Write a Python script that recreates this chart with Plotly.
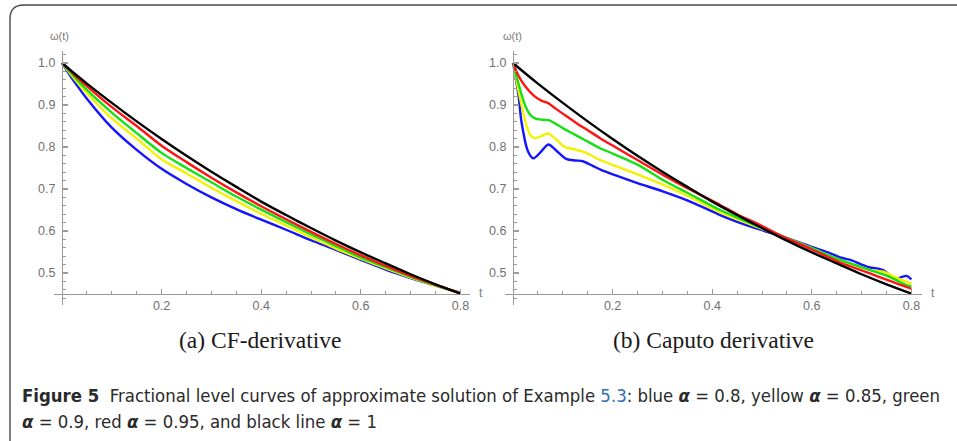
import plotly.graph_objects as go

W, H = 957, 441

# ---------------- data: (a) CF-derivative ----------------
t_cf = [0, 0.025, 0.05, 0.1, 0.15, 0.2, 0.25, 0.3, 0.35, 0.4, 0.45, 0.5,
        0.55, 0.6, 0.65, 0.7, 0.75, 0.8]
cf_black = [1.0, 0.975, 0.951, 0.905, 0.861, 0.819, 0.779, 0.741, 0.705, 0.670,
            0.638, 0.607, 0.577, 0.549, 0.523, 0.497, 0.473, 0.451]
cf_red = [1.0, 0.972, 0.945, 0.895, 0.850, 0.803, 0.764, 0.727, 0.692, 0.659,
          0.628, 0.598, 0.569, 0.542, 0.517, 0.493, 0.472, 0.452]
cf_green = [1.0, 0.967, 0.936, 0.882, 0.833, 0.786, 0.750, 0.716, 0.682, 0.651,
            0.621, 0.592, 0.564, 0.537, 0.514, 0.491, 0.471, 0.452]
cf_yellow = [1.0, 0.962, 0.928, 0.868, 0.820, 0.771, 0.737, 0.703, 0.671, 0.641,
             0.613, 0.585, 0.558, 0.534, 0.511, 0.489, 0.470, 0.452]
cf_blue = [1.0, 0.955, 0.915, 0.846, 0.793, 0.748, 0.712, 0.680, 0.652, 0.627,
           0.603, 0.578, 0.555, 0.531, 0.508, 0.488, 0.470, 0.453]

# ---------------- data: (b) Caputo derivative ----------------
t_cap_black = t_cf
cap_black = cf_black

t_cap_red = [0, 0.01, 0.024, 0.044, 0.058, 0.071, 0.085, 0.104, 0.13, 0.15, 0.175,
             0.205, 0.25, 0.302, 0.35, 0.416, 0.45, 0.5, 0.543, 0.6, 0.657, 0.717,
             0.75, 0.79, 0.8]
cap_red = [1.0, 0.972, 0.945, 0.920, 0.910, 0.904, 0.892, 0.876, 0.855, 0.840, 0.821,
           0.800, 0.769, 0.733, 0.702, 0.662, 0.640, 0.612, 0.586, 0.556, 0.525, 0.499,
           0.484, 0.467, 0.462]

t_cap_green = [0, 0.01, 0.024, 0.035, 0.044, 0.058, 0.071, 0.085, 0.1, 0.12, 0.145,
               0.175, 0.205, 0.25, 0.302, 0.35, 0.416, 0.45, 0.5, 0.543, 0.6, 0.637,
               0.657, 0.717, 0.75, 0.79, 0.8]
cap_green = [1.0, 0.955, 0.900, 0.876, 0.868, 0.865, 0.864, 0.856, 0.845, 0.832, 0.816,
             0.797, 0.782, 0.758, 0.721, 0.691, 0.650, 0.632, 0.607, 0.586, 0.559, 0.540,
             0.531, 0.507, 0.494, 0.471, 0.468]

t_cap_yellow = [0, 0.01, 0.025, 0.035, 0.044, 0.057, 0.07, 0.085, 0.104, 0.125, 0.145,
                0.175, 0.205, 0.25, 0.302, 0.35, 0.416, 0.45, 0.5, 0.543, 0.6, 0.657,
                0.717, 0.744, 0.767, 0.79, 0.8]
cap_yellow = [1.0, 0.940, 0.860, 0.828, 0.821, 0.826, 0.832, 0.820, 0.800, 0.794, 0.787,
              0.769, 0.755, 0.735, 0.710, 0.684, 0.644, 0.628, 0.605, 0.586, 0.559, 0.531,
              0.507, 0.503, 0.490, 0.479, 0.475]

t_cap_blue = [0, 0.006, 0.011, 0.017, 0.03, 0.041, 0.055, 0.071, 0.09, 0.108, 0.125,
              0.14, 0.16, 0.178, 0.205, 0.25, 0.302, 0.35, 0.416, 0.45, 0.5, 0.543,
              0.6, 0.637, 0.657, 0.68, 0.7, 0.717, 0.73, 0.745, 0.757, 0.767, 0.78,
              0.79, 0.8]
cap_blue = [1.0, 0.960, 0.924, 0.860, 0.790, 0.773, 0.787, 0.806, 0.788, 0.771, 0.768,
            0.766, 0.755, 0.745, 0.733, 0.714, 0.694, 0.673, 0.638, 0.622, 0.602, 0.586,
            0.562, 0.547, 0.537, 0.530, 0.520, 0.513, 0.511, 0.506, 0.494, 0.486, 0.490,
            0.493, 0.485]

x_ticks = [0.2, 0.4, 0.6, 0.8]
x_tick_labels = ["0.2", "0.4", "0.6", "0.8"]
x_minor = [0.05, 0.1, 0.15, 0.25, 0.3, 0.35, 0.45, 0.5, 0.55, 0.65, 0.7, 0.75]
y_ticks = [0.5, 0.6, 0.7, 0.8, 0.9, 1.0]
y_tick_labels = ["0.5", "0.6", "0.7", "0.8", "0.9", "1.0"]
y_minor = [0.44, 0.46, 0.48, 0.52, 0.54, 0.56, 0.58, 0.62, 0.64, 0.66, 0.68,
           0.72, 0.74, 0.76, 0.78, 0.82, 0.84, 0.86, 0.88, 0.92, 0.94, 0.96,
           0.98, 1.02]

COL = {"blue": "#1414ff", "yellow": "#f2f200", "green": "#14e014",
       "red": "#ff1414", "black": "#000000"}

def X(px):
    return px / W

def Y(py):
    return 1 - py / H

fig = go.Figure()

def add(t, v, color, ax):
    fig.add_trace(go.Scatter(x=t, y=v, mode="lines",
                             line=dict(color=COL[color], width=2.4, shape="spline", smoothing=0.8),
                             xaxis="x" + ax, yaxis="y" + ax, showlegend=False,
                             hoverinfo="skip"))

add(t_cf, cf_blue, "blue", "")
add(t_cf, cf_yellow, "yellow", "")
add(t_cf, cf_green, "green", "")
add(t_cf, cf_red, "red", "")
add(t_cf, cf_black, "black", "")

add(t_cap_blue, cap_blue, "blue", "2")
add(t_cap_yellow, cap_yellow, "yellow", "2")
add(t_cap_green, cap_green, "green", "2")
add(t_cap_red, cap_red, "red", "2")
add(t_cap_black, cap_black, "black", "2")

AX = "#9a9a9a"
TF = dict(family="Liberation Sans, Arial, sans-serif", size=12.5, color="#707070")

def xax(x0, x1, y_axis_px):
    px_per = 498.0
    return dict(domain=[X(x0), X(x1)],
                range=[(x0 - y_axis_px) / px_per, (x1 - y_axis_px) / px_per],
                anchor="free", position=Y(294), showline=True, linecolor=AX,
                linewidth=1.3, ticks="inside", ticklen=5, tickwidth=1.1, tickcolor=AX,
                tickmode="array", tickvals=x_ticks, ticktext=x_tick_labels,
                tickfont=TF, showgrid=False, zeroline=False, ticklabelstandoff=0,
                minor=dict(tickmode="array", tickvals=x_minor, ticks="inside",
                           ticklen=3, tickwidth=1, tickcolor=AX, showgrid=False))

def yax(y_axis_px):
    px_per = 420.0
    return dict(domain=[Y(305), Y(51)],
                range=[1 - (305 - 63) / px_per, 1 + (63 - 51) / px_per],
                anchor="free", position=X(y_axis_px), showline=True, linecolor=AX,
                linewidth=1.3, ticks="inside", ticklen=5, tickwidth=1.1, tickcolor=AX,
                tickmode="array", tickvals=y_ticks, ticktext=y_tick_labels,
                tickfont=TF, showgrid=False, zeroline=False, ticklabelstandoff=4,
                minor=dict(tickmode="array", tickvals=y_minor, ticks="inside",
                           ticklen=3, tickwidth=1, tickcolor=AX, showgrid=False))

xa1 = xax(54, 470, 62)
ya1 = yax(62)
xa2 = xax(505, 922, 513)
ya2 = yax(513)

ann = []
LBL = dict(family="Liberation Sans, Arial, sans-serif", size=11, color="#7a7a7a")
for xp in (60, 512):
    ann.append(dict(x=X(xp), y=Y(36), xref="paper", yref="paper", text="ω(t)",
                    showarrow=False, font=LBL, xanchor="center", yanchor="middle"))
for xp in (481, 933):
    ann.append(dict(x=X(xp), y=Y(293), xref="paper", yref="paper", text="t",
                    showarrow=False, font=dict(LBL, size=12), xanchor="center", yanchor="middle"))

SERIF = dict(family="Liberation Serif, DejaVu Serif, serif", size=23.5, color="#1a1a1a")
ann.append(dict(x=X(260), y=Y(340), xref="paper", yref="paper", text="(a) CF-derivative",
                showarrow=False, font=SERIF, xanchor="center", yanchor="middle"))
ann.append(dict(x=X(713), y=Y(340), xref="paper", yref="paper", text="(b) Caputo derivative",
                showarrow=False, font=SERIF, xanchor="center", yanchor="middle"))

CAP = dict(family="DejaVu Sans Condensed, Liberation Sans Narrow, Liberation Sans, sans-serif",
           size=18.4, color="#2a2a2a")
a = "<b><i>α</i></b>"
line1 = ("<b>Figure 5</b>  Fractional level curves of approximate solution of Example "
         "<span style='color:#2f6fc0'>5.3</span>: blue " + a + " = 0.8, yellow " + a +
         " = 0.85, green")
line2 = a + " = 0.9, red " + a + " = 0.95, and black line " + a + " = 1"
ann.append(dict(x=X(20), y=Y(395), xref="paper", yref="paper", text=line1,
                showarrow=False, font=CAP, xanchor="left", yanchor="middle", align="left"))
ann.append(dict(x=X(20), y=Y(421), xref="paper", yref="paper", text=line2,
                showarrow=False, font=CAP, xanchor="left", yanchor="middle", align="left"))

r = 14
frame = (f"M {X(10)},{Y(441)} L {X(10)},{Y(5 + r)} "
         f"Q {X(10)},{Y(5)} {X(10 + r)},{Y(5)} L {X(957)},{Y(5)}")

fig.update_layout(
    width=W, height=H, margin=dict(l=0, r=0, t=0, b=0),
    paper_bgcolor="white", plot_bgcolor="rgba(0,0,0,0)",
    xaxis=xa1, yaxis=ya1, xaxis2=xa2, yaxis2=ya2,
    annotations=ann,
    shapes=[dict(type="path", path=frame, xref="paper", yref="paper",
                 line=dict(color="#4a4a4a", width=1.4))],
    showlegend=False,
)

fig.write_html("out.html", config={"displayModeBar": False, "staticPlot": True},
               post_script="document.body.style.margin='0';")
